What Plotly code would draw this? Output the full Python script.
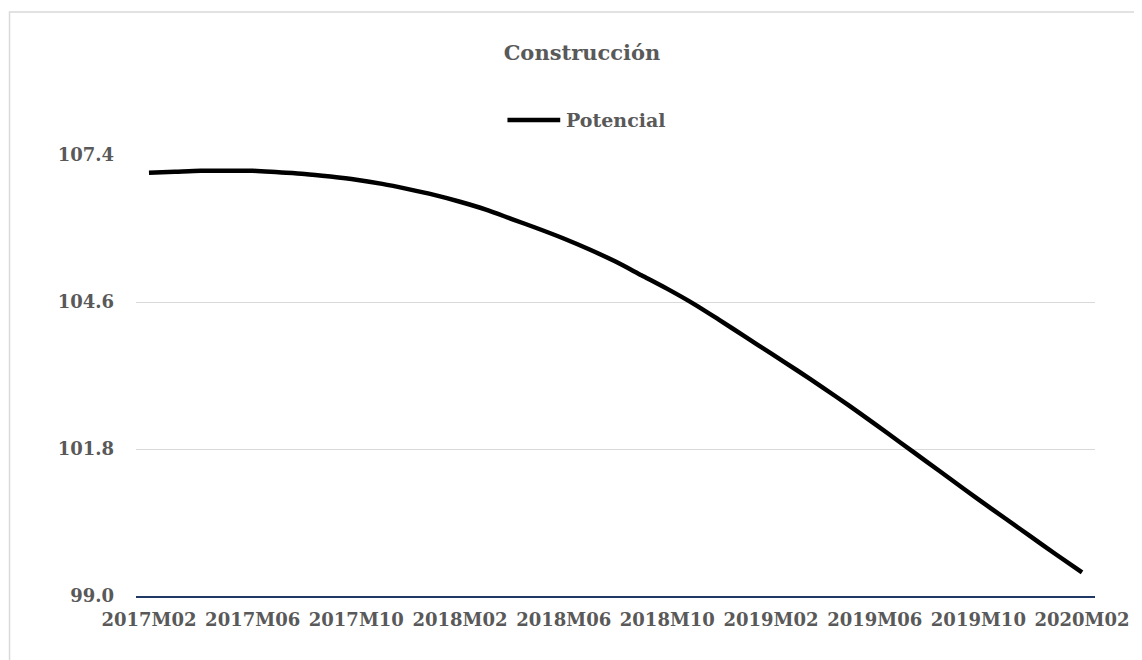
import plotly.graph_objects as go

months = []
for y in (2017, 2018, 2019, 2020):
    for m in range(1, 13):
        if (y == 2017 and m < 2) or (y == 2020 and m > 2):
            continue
        months.append(f"{y}M{m:02d}")

potencial = [107.06, 107.08, 107.10, 107.10, 107.10, 107.07, 107.04, 106.99, 106.93,
             106.85, 106.75, 106.64, 106.51, 106.36, 106.18, 106.00, 105.81, 105.60,
             105.37, 105.11, 104.85, 104.57, 104.26, 103.94, 103.62, 103.30, 102.97,
             102.63, 102.28, 101.92, 101.56, 101.20, 100.84, 100.49, 100.14, 99.79, 99.45]

tick_labels = months[::4]
y_ticks = [99.0, 101.8, 104.6, 107.4]

FONT = "DejaVu Serif"
GRAY = "#595959"

# page offset caused by default body margin (8px)
OFF = 8
W, H = 1142 - OFF, 660 - OFF
PL, PR, PT, PB = 136, 1099, 155, 596  # plot area in page pixels
pw, ph = PR - PL, PB - PT


def px(x):
    return (x - PL) / pw


def py(y):
    return (PB - y) / ph


fig = go.Figure()
fig.add_trace(go.Scatter(
    x=months, y=potencial, mode="lines", name="Potencial",
    line=dict(color="black", width=4.5, shape="spline", smoothing=0.8),
    showlegend=False,
))

fig.update_layout(
    width=W, height=H,
    margin=dict(l=PL - OFF, r=W - (PR - OFF), t=PT - OFF, b=H - (PB - OFF)),
    paper_bgcolor="white", plot_bgcolor="white",
    title=dict(text="<b>Construcción</b>", x=(582 - OFF) / W, xanchor="center",
               y=1 - (53 - OFF) / H, yanchor="middle",
               font=dict(family=FONT, size=21, color=GRAY)),
    showlegend=False,
    font=dict(family=FONT, color=GRAY),
)

fig.update_xaxes(
    type="category", categoryorder="array", categoryarray=months,
    range=[-0.5, len(months) - 0.5],
    tickmode="array", tickvals=tick_labels, ticktext=[f"<b>{t}</b>" for t in tick_labels],
    tickangle=0, tickfont=dict(family=FONT, size=18, color=GRAY),
    showgrid=False, showline=True, linecolor="#1f3864", linewidth=1.5,
    ticks="", zeroline=False, ticklabelstandoff=7,
)
fig.update_yaxes(
    range=[99.0, 107.4], tickmode="array", tickvals=y_ticks,
    ticktext=[f"<b>{v:.1f}</b>" for v in y_ticks],
    tickfont=dict(family=FONT, size=18, color=GRAY),
    showgrid=True, gridcolor="#d9d9d9", gridwidth=1,
    showline=False, zeroline=False, ticks="", ticklabelstandoff=21,
)

# chart border
fig.add_shape(type="rect", xref="paper", yref="paper",
              x0=px(9), x1=px(1160), y0=py(680), y1=py(12),
              line=dict(color="#d9d9d9", width=1.5), fillcolor="rgba(0,0,0,0)", layer="below")

# legend (manual, to match the long legend key)
fig.add_shape(type="line", xref="paper", yref="paper",
              x0=px(509), x1=px(562), y0=py(120), y1=py(120),
              line=dict(color="black", width=4.5))
fig.add_annotation(xref="paper", yref="paper", x=px(566), y=py(120),
                   xanchor="left", yanchor="middle", showarrow=False,
                   text="<b>Potencial</b>", font=dict(family=FONT, size=19, color=GRAY))

fig.write_html("out.html")
